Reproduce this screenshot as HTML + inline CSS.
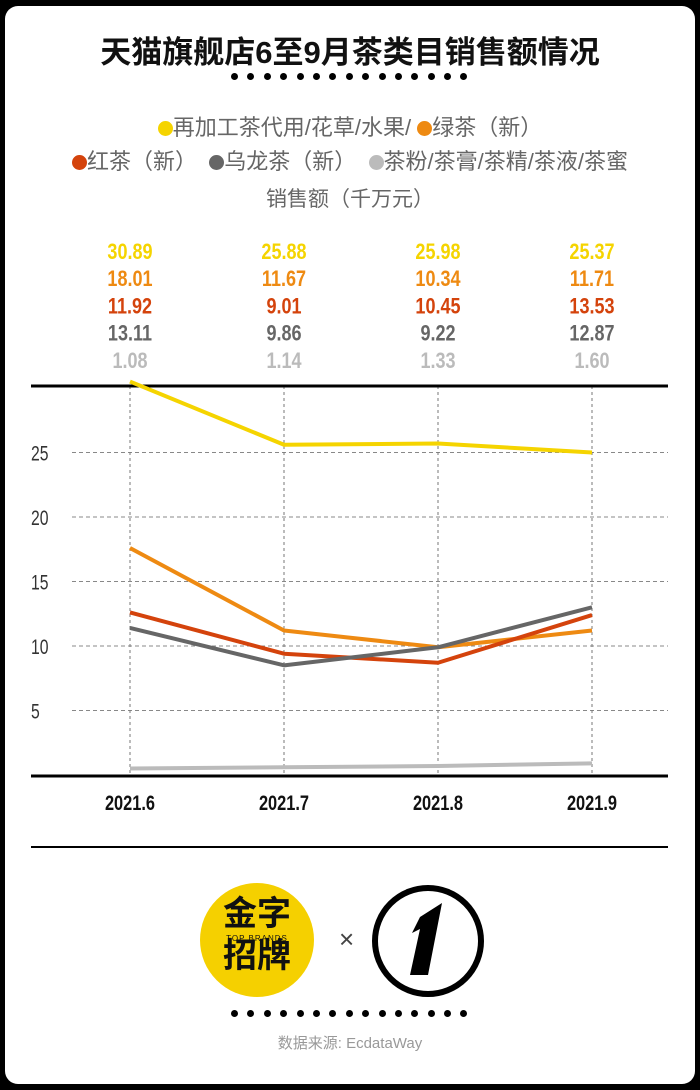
<!DOCTYPE html>
<html><head><meta charset="utf-8">
<style>
html,body{margin:0;padding:0;background:#000;}
body{width:700px;height:1090px;position:relative;overflow:hidden;font-family:"Liberation Sans","Noto Sans CJK SC",sans-serif;}
#panel{position:absolute;left:5px;top:6px;width:690px;height:1078px;background:#fff;border-radius:13px;}
.abs{position:absolute;}
.dots{position:absolute;display:flex;gap:0;}
.dots span{display:inline-block;width:7px;height:7px;border-radius:50%;background:#000;margin-right:9.4px;}
.c{white-space:nowrap;}
</style></head>
<body>
<div id="panel"></div>
<div class="abs c" style="left:0;width:700px;top:27px;text-align:center;font-size:31px;font-weight:bold;color:#111;">天猫旗舰店6至9月茶类目销售额情况</div>
<div class="dots" style="left:231px;top:73px;">
<span></span><span></span><span></span><span></span><span></span><span></span><span></span><span></span><span></span><span></span><span></span><span></span><span></span><span></span><span></span></div>
<div class="abs c" style="left:0;width:700px;top:110px;text-align:center;font-size:22px;color:#666;">
<span><span style="display:inline-block;width:15px;height:15px;border-radius:50%;background:#f5d400;vertical-align:-1px"></span>再加工茶代用/花草/水果/</span>
<span><span style="display:inline-block;width:15px;height:15px;border-radius:50%;background:#ee8a12;vertical-align:-1px"></span>绿茶（新）</span></div>
<div class="abs c" style="left:0;width:700px;top:144px;text-align:center;font-size:22px;color:#666;">
<span><span style="display:inline-block;width:15px;height:15px;border-radius:50%;background:#d4430c;vertical-align:-1px"></span>红茶（新）</span>&nbsp;
<span><span style="display:inline-block;width:15px;height:15px;border-radius:50%;background:#666;vertical-align:-1px"></span>乌龙茶（新）</span>&nbsp;
<span><span style="display:inline-block;width:15px;height:15px;border-radius:50%;background:#bbb;vertical-align:-1px"></span>茶粉/茶膏/茶精/茶液/茶蜜</span></div>
<div class="abs c" style="left:0;width:700px;top:183px;text-align:center;font-size:21px;color:#666;">销售额（千万元）</div>

<svg class="abs" style="left:0;top:0" width="700" height="1090" id="chart"></svg>

<div class="abs" style="left:200px;top:883px;width:114px;height:114px;border-radius:50%;background:#f5d000;"></div>
<div class="abs c" style="left:200px;top:893px;width:114px;text-align:center;font-size:34px;line-height:42px;font-weight:bold;color:#111;">金字<br>招牌</div>
<div class="abs c" style="left:200px;top:934px;width:114px;text-align:center;font-size:8px;letter-spacing:1px;color:#111;">TOP BRANDS</div>
<div class="abs" style="left:339px;top:924px;font-size:26px;color:#444;">×</div>
<svg class="abs" style="left:370px;top:883px" width="120" height="116">
<circle cx="58" cy="58" r="53" fill="none" stroke="#000" stroke-width="6"/>
<polygon points="50,34 72,20 58,92 40,92 50,46 42,50" fill="#000"/>
</svg>
<div class="dots" style="left:231px;top:1010px;">
<span></span><span></span><span></span><span></span><span></span><span></span><span></span><span></span><span></span><span></span><span></span><span></span><span></span><span></span><span></span></div>
<div class="abs c" style="left:0;width:700px;top:1032px;text-align:center;font-size:15px;color:#999;">数据来源: EcdataWay</div>

<script>
const categories=["2021.6","2021.7","2021.8","2021.9"];
const seriesNames=["reprocessed","green-tea","black-tea","oolong","powder"];
const colors=["#f5d400","#ee8a12","#d4430c","#666666","#bbbbbb"];
const reprocessedValues=[30.5,25.6,25.7,25.0];
const greenTeaValues=[17.6,11.2,9.9,11.2];
const blackTeaValues=[12.6,9.4,8.7,12.4];
const oolongValues=[11.4,8.5,9.9,13.0];
const powderValues=[0.5,0.6,0.7,0.9];
const reprocessedLabels=["30.89","25.88","25.98","25.37"];
const greenTeaLabels=["18.01","11.67","10.34","11.71"];
const blackTeaLabels=["11.92","9.01","10.45","13.53"];
const oolongLabels=["13.11","9.86","9.22","12.87"];
const powderLabels=["1.08","1.14","1.33","1.60"];
const yTicks=[5,10,15,20,25];

const series=[reprocessedValues,greenTeaValues,blackTeaValues,oolongValues,powderValues];
const labels=[reprocessedLabels,greenTeaLabels,blackTeaLabels,oolongLabels,powderLabels];
const NS="http://www.w3.org/2000/svg";
const svg=document.getElementById('chart');
const x=i=>130+i*154;
const y=v=>775-v*12.9;
function mk(t,a){const e=document.createElementNS(NS,t);for(const k in a)e.setAttribute(k,a[k]);svg.appendChild(e);return e;}
const fam='"Liberation Sans Narrow","Liberation Sans",sans-serif';
labels.forEach((arr,s)=>arr.forEach((t,i)=>{
  const e=mk('text',{x:x(i),y:259+s*27.2,'text-anchor':'middle','font-size':22,'font-weight':'bold','font-family':fam,fill:colors[s],transform:`translate(${x(i)},0) scale(0.82,1) translate(${-x(i)},0)`});
  e.textContent=t;
  
  
}));
yTicks.forEach(v=>{
  const l=mk('line',{x1:72,x2:668,y1:y(v),y2:y(v),stroke:'#888','stroke-width':1,'stroke-dasharray':'4,3'});
  
  
  const t=mk('text',{x:31,y:y(v)+8,'font-size':21,'font-family':fam,fill:'#333',transform:`translate(31,0) scale(0.75,1) translate(-31,0)`});
  t.textContent=v;
  
  
});
categories.forEach((c,i)=>{
  const l=mk('line',{x1:x(i),x2:x(i),y1:386,y2:776,stroke:'#777','stroke-width':1,'stroke-dasharray':'3,3'});
  
  
  const t=mk('text',{x:x(i),y:810,'text-anchor':'middle','font-size':21,'font-weight':'bold','font-family':fam,fill:'#111',transform:`translate(${x(i)},0) scale(0.78,1) translate(${-x(i)},0)`});
  t.textContent=c;
  
  
});
[386,776].forEach((yy,k)=>{
  const l=mk('line',{x1:31,x2:668,y1:yy,y2:yy,stroke:'#000','stroke-width':3});
  
  
});
const sep=mk('line',{x1:31,x2:668,y1:847,y2:847,stroke:'#000','stroke-width':2});


series.forEach((vals,s)=>{
  const p=mk('polyline',{points:vals.map((v,i)=>x(i)+','+y(v)).join(' '),fill:'none',stroke:colors[s],'stroke-width':4,'stroke-linejoin':'round'});
  
  
});
</script>
</body></html>
